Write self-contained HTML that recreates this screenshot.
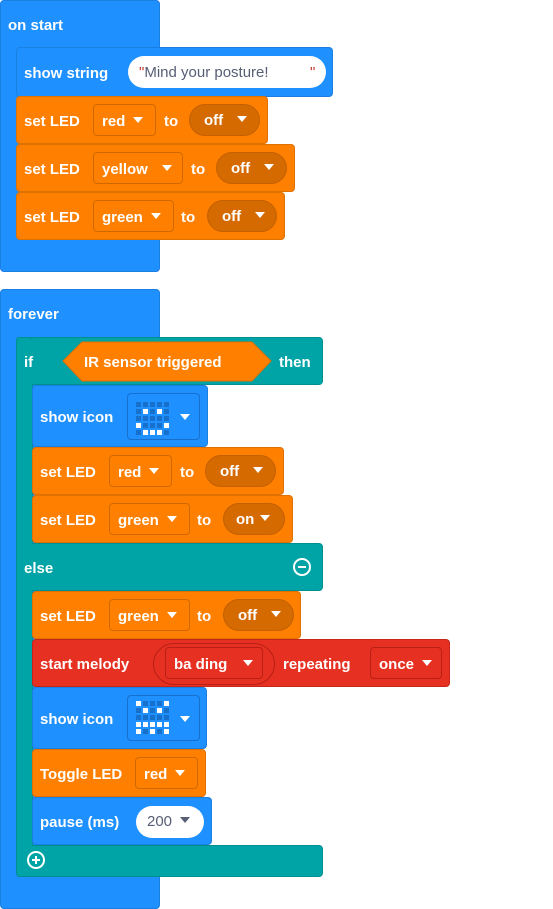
<!DOCTYPE html>
<html><head><style>
body{margin:0;width:553px;height:909px;background:#fff;position:relative;font-family:"Liberation Sans",sans-serif;font-weight:bold;font-size:15px;color:#fff;overflow:hidden}
.b{position:absolute;border-radius:4px;box-sizing:border-box}
.blue{background:#1e90ff;border:1px solid #1a7fe0}
.or{background:#ff8000;border:1px solid #e07000}
.teal{background:#00a4a6;border:1px solid #008f91}
.red{background:#e63022;border:1px solid #c52619}
.t{position:absolute;line-height:20px;white-space:nowrap;margin-top:2px}
.dd{position:absolute;border:1px solid #d06800;border-radius:4px;box-sizing:border-box;padding-left:8px;line-height:33px}
.pill{position:absolute;background:#d46a00;border-radius:16px;box-sizing:border-box;padding-left:14px;line-height:32px;border:1px solid #c46000}
.ar{display:inline-block;width:0;height:0;border-left:5px solid transparent;border-right:5px solid transparent;border-top:6px solid #fff;vertical-align:middle;margin-left:8px;position:relative;top:-2px}
.grid{position:absolute;display:grid;grid-template-columns:repeat(5,5px);gap:2px}
.grid i{width:5px;height:5px;background:#1670cc;display:block}
.grid i.w{background:#fff}
.circ{position:absolute;width:18px;height:18px;border:2px solid #fff;border-radius:50%;box-sizing:border-box}
</style></head><body>

<!-- on start -->
<div class="b blue" style="left:0;top:0;width:160px;height:272px"></div>
<div class="t" style="left:8px;top:14px">on start</div>
<div class="b blue" style="left:16px;top:47px;width:317px;height:50px"></div>
<div class="t" style="left:24px;top:62px">show string</div>
<div style="position:absolute;left:128px;top:56px;width:198px;height:32px;background:#fff;border-radius:16px;color:#575e75;font-weight:normal;line-height:34px;font-size:15px"><span style="color:#c0392b;margin-left:11px">"</span>Mind your posture!<span style="color:#c0392b;position:absolute;left:182px">"</span></div>

<div class="b or" style="left:16px;top:96px;width:252px;height:48px"></div>
<div class="t" style="left:24px;top:110px">set LED</div>
<div class="dd" style="left:93px;top:104px;width:63px;height:32px">red<span class="ar"></span></div>
<div class="t" style="left:164px;top:110px">to</div>
<div class="pill" style="left:189px;top:104px;width:71px;height:32px">off<span class="ar" style="margin-left:14px"></span></div>

<div class="b or" style="left:16px;top:144px;width:279px;height:48px"></div>
<div class="t" style="left:24px;top:158px">set LED</div>
<div class="dd" style="left:93px;top:152px;width:90px;height:32px">yellow<span class="ar" style="margin-left:14px"></span></div>
<div class="t" style="left:191px;top:158px">to</div>
<div class="pill" style="left:216px;top:152px;width:71px;height:32px">off<span class="ar" style="margin-left:14px"></span></div>

<div class="b or" style="left:16px;top:192px;width:269px;height:48px"></div>
<div class="t" style="left:24px;top:206px">set LED</div>
<div class="dd" style="left:93px;top:200px;width:81px;height:32px">green<span class="ar"></span></div>
<div class="t" style="left:181px;top:206px">to</div>
<div class="pill" style="left:207px;top:200px;width:70px;height:32px">off<span class="ar" style="margin-left:14px"></span></div>

<!-- forever -->
<div class="b blue" style="left:0;top:289px;width:160px;height:620px"></div>
<div class="t" style="left:8px;top:303px">forever</div>
<div class="b teal" style="left:16px;top:337px;width:307px;height:48px"></div>
<div class="b teal" style="left:16px;top:337px;width:17px;height:540px"></div>
<div class="b teal" style="left:16px;top:543px;width:307px;height:48px"></div>
<div class="b teal" style="left:16px;top:845px;width:307px;height:32px"></div>
<div style="position:absolute;left:17px;top:340px;width:305px;height:44px;background:#00a4a6"></div>
<div style="position:absolute;left:17px;top:380px;width:15px;height:490px;background:#00a4a6"></div>
<div class="t" style="left:24px;top:351px">if</div>
<svg style="position:absolute;left:62px;top:341px" width="211" height="42"><polygon points="1,20 20,1 190,1 209,20 190,40 20,40" fill="#ff8000" stroke="#e07000"/></svg>
<div class="t" style="left:84px;top:351px">IR sensor triggered</div>
<div class="t" style="left:279px;top:351px">then</div>

<div class="b blue" style="left:32px;top:385px;width:176px;height:62px"></div>
<div class="t" style="left:40px;top:406px">show icon</div>
<div class="b" style="left:127px;top:393px;width:73px;height:47px;border:1px solid #1670cc"></div>
<div class="grid" style="left:136px;top:402px"><i></i><i></i><i></i><i></i><i></i><i></i><i class="w"></i><i></i><i class="w"></i><i></i><i></i><i></i><i></i><i></i><i></i><i class="w"></i><i></i><i></i><i></i><i class="w"></i><i></i><i class="w"></i><i class="w"></i><i class="w"></i><i></i></div>
<span class="ar" style="position:absolute;left:180px;top:414px;margin:0"></span>

<div class="b or" style="left:32px;top:447px;width:252px;height:48px"></div>
<div class="t" style="left:40px;top:461px">set LED</div>
<div class="dd" style="left:109px;top:455px;width:63px;height:32px">red<span class="ar"></span></div>
<div class="t" style="left:180px;top:461px">to</div>
<div class="pill" style="left:205px;top:455px;width:71px;height:32px">off<span class="ar" style="margin-left:14px"></span></div>

<div class="b or" style="left:32px;top:495px;width:261px;height:48px"></div>
<div class="t" style="left:40px;top:509px">set LED</div>
<div class="dd" style="left:109px;top:503px;width:81px;height:32px">green<span class="ar"></span></div>
<div class="t" style="left:197px;top:509px">to</div>
<div class="pill" style="left:223px;top:503px;width:62px;height:32px;padding-left:12px">on<span class="ar" style="margin-left:6px"></span></div>

<div class="t" style="left:24px;top:557px">else</div>
<div class="circ" style="left:293px;top:558px"><div style="position:absolute;left:3px;top:6px;width:8px;height:2px;background:#fff"></div></div>

<div class="b or" style="left:32px;top:591px;width:269px;height:48px"></div>
<div class="t" style="left:40px;top:605px">set LED</div>
<div class="dd" style="left:109px;top:599px;width:81px;height:32px">green<span class="ar"></span></div>
<div class="t" style="left:197px;top:605px">to</div>
<div class="pill" style="left:223px;top:599px;width:71px;height:32px">off<span class="ar" style="margin-left:14px"></span></div>

<div class="b red" style="left:32px;top:639px;width:418px;height:48px"></div>
<div class="t" style="left:40px;top:653px">start melody</div>
<div style="position:absolute;left:153px;top:643px;width:122px;height:42px;border:1px solid #b82016;border-radius:21px;box-sizing:border-box"></div>
<div class="dd" style="left:165px;top:647px;width:98px;height:32px;border-color:#b82016">ba ding<span class="ar" style="margin-left:16px"></span></div>
<div class="t" style="left:283px;top:653px">repeating</div>
<div class="dd" style="left:370px;top:647px;width:72px;height:32px;border-color:#b82016">once<span class="ar"></span></div>

<div class="b blue" style="left:32px;top:687px;width:175px;height:62px"></div>
<div class="t" style="left:40px;top:708px">show icon</div>
<div class="b" style="left:127px;top:695px;width:73px;height:46px;border:1px solid #1670cc"></div>
<div class="grid" style="left:136px;top:701px"><i class="w"></i><i></i><i></i><i></i><i class="w"></i><i></i><i class="w"></i><i></i><i class="w"></i><i></i><i></i><i></i><i></i><i></i><i></i><i class="w"></i><i class="w"></i><i class="w"></i><i class="w"></i><i class="w"></i><i class="w"></i><i></i><i class="w"></i><i></i><i class="w"></i></div>
<span class="ar" style="position:absolute;left:180px;top:716px;margin:0"></span>

<div class="b or" style="left:32px;top:749px;width:174px;height:48px"></div>
<div class="t" style="left:40px;top:763px">Toggle LED</div>
<div class="dd" style="left:135px;top:757px;width:63px;height:32px">red<span class="ar"></span></div>

<div class="b blue" style="left:32px;top:797px;width:180px;height:48px"></div>
<div class="t" style="left:40px;top:811px">pause (ms)</div>
<div style="position:absolute;left:136px;top:806px;width:68px;height:32px;background:#fff;border-radius:16px;color:#575e75;font-weight:normal;line-height:32px;padding-left:11px;box-sizing:border-box">200<span class="ar" style="border-top-color:#575e75;margin-left:8px"></span></div>

<div class="circ" style="left:27px;top:851px"><div style="position:absolute;left:3px;top:6px;width:8px;height:2px;background:#fff"></div><div style="position:absolute;left:6px;top:3px;width:2px;height:8px;background:#fff"></div></div>
</body></html>
